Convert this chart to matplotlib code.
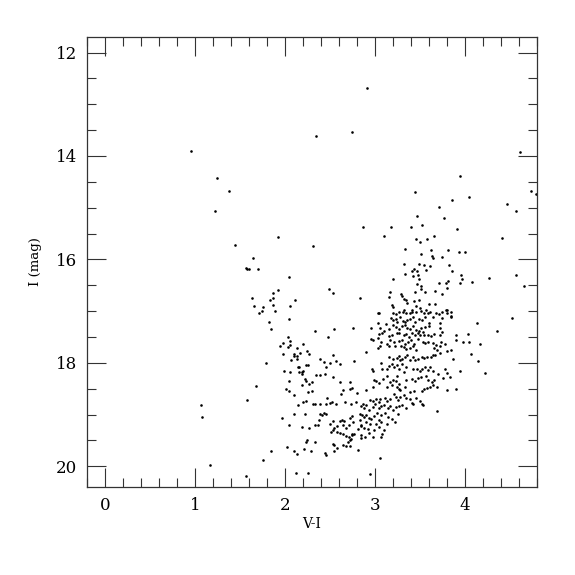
import matplotlib
matplotlib.use("Agg")
import matplotlib.pyplot as plt
from matplotlib.ticker import MultipleLocator

# colour-magnitude diagram, values (V-I, I)
# bright / sparse stars
vi_top = [2.91, 0.96, 2.34, 2.74, 4.61, 1.24, 1.38, 1.22, 3.95, 3.44, 4.05, 3.86, 3.71, 3.47,
          3.77, 3.52, 3.40, 3.18, 2.87, 3.91, 3.10, 3.46, 3.58, 3.66, 1.92, 4.41, 4.47, 4.57,
          4.73, 4.79]
i_top = [12.69, 13.90, 13.61, 13.53, 13.92, 14.43, 14.68, 15.07, 14.38, 14.69, 14.80, 14.85, 14.99, 15.16,
         15.19, 15.33, 15.37, 15.37, 15.37, 15.41, 15.55, 15.60, 15.61, 15.55, 15.57, 15.59, 14.92, 15.07,
         14.67, 14.73]

# upper red giant branch
vi_rgb = [3.50, 3.33, 3.62, 3.81, 3.93, 4.00, 3.51, 3.63, 3.64, 3.75, 3.32, 3.49, 3.54, 3.61,
          3.82, 3.43, 3.47, 3.41, 3.57, 3.33, 3.48, 3.42, 3.86, 3.96, 3.97, 3.20, 3.49, 4.27,
          4.57, 3.81, 3.71, 3.79, 3.94, 4.08, 3.47, 3.51, 3.80, 4.66, 3.51, 3.44, 3.56, 3.67,
          3.17, 3.29, 3.74, 3.16, 3.30, 3.32, 3.34, 2.83, 3.43, 3.36, 3.49, 3.60, 3.67, 3.19,
          3.20, 3.46, 3.50, 3.32, 3.41, 3.57, 3.79, 2.31, 2.49, 2.53]
i_rgb = [15.67, 15.80, 15.81, 15.82, 15.86, 15.86, 15.90, 15.93, 15.97, 15.96, 16.08, 16.09, 16.11, 16.12,
         16.11, 16.19, 16.22, 16.23, 16.20, 16.28, 16.31, 16.32, 16.22, 16.30, 16.37, 16.37, 16.37, 16.35,
         16.30, 16.41, 16.45, 16.45, 16.45, 16.44, 16.47, 16.52, 16.55, 16.51, 16.57, 16.63, 16.62, 16.61,
         16.63, 16.66, 16.66, 16.72, 16.70, 16.76, 16.79, 16.75, 16.81, 16.84, 16.79, 16.87, 16.86, 16.88,
         16.92, 16.90, 16.94, 16.97, 16.97, 16.97, 16.97, 15.74, 16.58, 16.65]

# red clump region
vi_clump = [3.03, 3.05, 3.20, 3.23, 3.27, 3.31, 3.35, 3.39, 3.41, 3.46, 3.51, 3.55, 3.59, 3.61,
            3.68, 3.71, 3.75, 3.80, 3.80, 3.85, 3.84, 3.03, 3.12, 3.18, 3.20, 3.23, 3.24, 3.28,
            3.31, 3.33, 3.36, 3.39, 3.42, 3.45, 3.49, 3.52, 3.56, 3.60, 3.64, 3.72, 3.75, 3.84,
            2.96, 3.06, 3.10, 3.16, 3.20, 3.23, 3.27, 3.30, 3.33, 3.36, 3.39, 3.42, 3.46, 3.49,
            3.51, 3.53, 3.56, 3.60, 3.72, 3.74, 3.27, 3.05, 3.08, 3.16, 3.19, 3.24, 3.32, 3.35,
            3.38, 3.41, 3.44, 3.48, 3.50, 3.55, 3.59, 3.62, 3.66, 3.72, 3.90, 4.03, 2.96, 2.98,
            3.03, 3.07, 3.13, 3.17, 3.21, 3.27, 3.30, 3.33, 3.37, 3.40, 3.43, 3.48, 3.53, 3.56,
            3.59, 3.64, 3.68, 3.73, 3.78, 3.90, 3.98, 4.04, 4.52, 4.13, 4.36, 4.17, 4.07, 4.15,
            4.22]
i_clump = [17.03, 17.04, 17.03, 17.06, 17.02, 17.01, 17.04, 17.03, 17.01, 17.02, 16.99, 17.04, 17.03, 17.01,
           17.04, 17.06, 17.01, 16.98, 17.04, 17.01, 17.09, 17.23, 17.24, 17.13, 17.17, 17.15, 17.21, 17.11,
           17.19, 17.21, 17.17, 17.15, 17.12, 17.21, 17.16, 17.17, 17.11, 17.23, 17.12, 17.23, 17.13, 17.11,
           17.32, 17.32, 17.38, 17.34, 17.27, 17.30, 17.35, 17.28, 17.27, 17.32, 17.34, 17.29, 17.37, 17.38,
           17.32, 17.40, 17.30, 17.29, 17.32, 17.41, 17.42, 17.44, 17.43, 17.48, 17.47, 17.43, 17.46, 17.44,
           17.50, 17.42, 17.47, 17.43, 17.46, 17.47, 17.46, 17.48, 17.44, 17.47, 17.47, 17.44, 17.53, 17.56,
           17.52, 17.59, 17.64, 17.55, 17.59, 17.57, 17.56, 17.63, 17.59, 17.56, 17.64, 17.53, 17.60, 17.61,
           17.59, 17.61, 17.65, 17.59, 17.63, 17.56, 17.59, 17.59, 17.13, 17.22, 17.38, 17.63, 17.83, 17.96,
           18.20]

# lower giant branch
vi_low = [2.90, 3.03, 3.06, 3.16, 3.22, 3.29, 3.32, 3.35, 3.39, 3.42, 3.46, 3.66, 3.69, 3.72,
          3.80, 3.84, 3.72, 3.16, 3.20, 3.24, 3.27, 3.28, 3.30, 3.33, 3.36, 3.39, 3.42, 3.45,
          3.48, 3.52, 3.54, 3.58, 3.62, 3.64, 3.67, 3.87, 3.07, 2.97, 2.98, 3.08, 3.13, 3.16,
          3.19, 3.21, 3.24, 3.27, 3.30, 3.32, 3.35, 3.42, 3.47, 3.50, 3.52, 3.56, 3.59, 3.61,
          3.65, 3.78, 3.80, 3.94, 3.70, 2.99, 3.01, 3.04, 3.09, 3.13, 3.17, 3.20, 3.23, 3.25,
          3.27, 3.35, 3.41, 3.44, 3.48, 3.51, 3.57, 3.59, 3.63, 3.66, 3.76, 3.83, 2.98, 2.90,
          3.13, 3.19, 3.24, 3.27, 3.28, 3.33, 3.39, 3.43, 3.52, 3.55, 3.58, 3.61, 3.65, 3.69,
          3.80, 3.90]
i_low = [17.79, 17.71, 17.68, 17.68, 17.67, 17.67, 17.69, 17.73, 17.71, 17.67, 17.75, 17.71, 17.75, 17.68,
         17.77, 17.75, 17.80, 17.88, 17.93, 17.90, 17.86, 17.95, 17.92, 17.89, 17.84, 17.95, 17.88, 17.95,
         17.92, 17.88, 17.90, 17.89, 17.88, 17.85, 17.84, 17.93, 18.01, 18.12, 18.16, 18.12, 18.11, 18.06,
         18.03, 18.08, 18.04, 18.12, 18.02, 18.17, 18.08, 18.11, 18.12, 18.15, 18.11, 18.08, 18.13, 18.08,
         18.16, 18.11, 18.19, 18.15, 18.21, 18.33, 18.35, 18.39, 18.31, 18.26, 18.37, 18.33, 18.35, 18.25,
         18.40, 18.33, 18.31, 18.35, 18.30, 18.28, 18.25, 18.33, 18.37, 18.34, 18.30, 18.28, 18.47, 18.53,
         18.47, 18.43, 18.46, 18.50, 18.53, 18.47, 18.56, 18.55, 18.55, 18.50, 18.48, 18.47, 18.42, 18.46,
         18.53, 18.50]

# base of the giant branch
vi_base = [2.94, 2.98, 3.01, 3.04, 3.06, 3.11, 3.13, 3.17, 3.21, 3.23, 3.26, 3.28, 3.32, 3.35,
           3.39, 3.41, 3.46, 3.50, 3.52, 3.53, 3.69, 2.87, 2.84, 2.88, 2.90, 2.93, 2.98, 3.00,
           3.04, 3.07, 3.10, 3.14, 3.17, 3.20, 3.23, 3.27, 3.30, 3.35, 3.42, 2.83, 2.86, 2.88,
           2.90, 2.93, 2.96, 2.99, 3.04, 3.07, 3.11, 3.14, 3.19, 3.22, 3.26, 3.01, 3.07, 2.83,
           2.90, 2.94, 3.13, 3.02]
i_base = [18.71, 18.73, 18.70, 18.75, 18.70, 18.68, 18.74, 18.70, 18.61, 18.66, 18.71, 18.65, 18.62, 18.68,
          18.70, 18.77, 18.68, 18.74, 18.79, 18.82, 18.93, 18.79, 18.84, 18.88, 18.82, 18.92, 18.86, 18.79,
          18.87, 18.84, 18.82, 18.88, 18.83, 18.91, 18.86, 18.83, 18.81, 18.88, 18.79, 18.98, 19.01, 19.04,
          19.00, 19.06, 19.09, 19.02, 19.10, 19.01, 18.97, 19.04, 19.08, 19.15, 18.99, 19.18, 19.15, 19.11,
          19.14, 19.18, 19.19, 18.97]

# blue / intermediate branch
vi_blue = [2.33, 2.48, 2.54, 2.76, 2.17, 2.20, 2.25, 2.27, 2.16, 2.19, 2.20, 2.23, 2.26, 2.19,
           2.22, 2.39, 2.45, 2.39, 2.43, 2.50, 2.46, 2.53, 2.57, 2.61, 2.77, 2.34, 2.53, 1.45,
           1.65, 1.57, 1.58, 1.60, 1.70, 2.05, 1.92, 1.87, 1.63, 1.83, 1.87, 2.11, 1.66, 1.76,
           1.87, 2.06, 1.74, 1.71, 1.89, 2.04, 1.82, 1.85, 2.03, 2.06, 1.98, 1.94, 2.03, 2.06,
           2.13, 1.98, 2.10, 2.13, 2.10, 2.13, 2.07, 1.79, 2.14, 1.99, 2.06, 2.16, 1.07, 1.08,
           1.17]
i_blue = [17.39, 17.50, 17.35, 17.32, 17.81, 17.64, 17.77, 17.83, 18.08, 18.17, 18.15, 18.05, 18.04, 18.21,
          18.31, 18.24, 18.22, 17.92, 17.99, 18.01, 18.08, 17.85, 17.96, 18.02, 17.96, 18.24, 18.28, 15.72,
          15.98, 16.16, 16.19, 16.19, 16.19, 16.33, 16.59, 16.64, 16.75, 16.79, 16.75, 16.79, 16.90, 16.92,
          16.88, 16.90, 16.99, 17.03, 16.99, 17.15, 17.21, 17.34, 17.50, 17.57, 17.62, 17.67, 17.69, 17.66,
          17.71, 17.83, 17.83, 17.86, 17.87, 17.93, 17.95, 18.01, 18.08, 18.15, 18.17, 18.18, 18.81, 19.04,
          19.98]

# faint turn-off region
vi_faint = [1.68, 2.05, 2.19, 2.23, 2.27, 2.30, 2.61, 2.72, 2.74, 2.62, 2.80, 2.01, 2.05, 2.26,
            2.30, 2.10, 1.58, 2.20, 2.23, 2.15, 2.31, 2.33, 2.39, 2.46, 2.50, 2.52, 2.47, 2.57,
            2.67, 2.73, 2.79, 2.10, 1.97, 2.04, 2.02, 2.10, 1.85, 1.76, 1.57, 2.12, 2.13, 2.65,
            2.72, 2.22, 2.39, 2.41, 2.43, 2.46, 2.38, 2.33, 2.37, 2.27, 2.19, 2.50, 2.53, 2.55,
            2.58, 2.61, 2.63, 2.64, 2.66, 2.68, 2.71, 2.72, 2.74, 2.76, 2.53, 2.51, 2.58, 2.61,
            2.64, 2.68, 2.71, 2.73, 2.72, 2.70, 2.74, 2.75, 2.77, 2.81, 2.84, 2.85, 2.88, 2.92,
            2.93, 2.85, 2.84, 2.89, 2.98, 3.07, 3.08, 3.10, 2.99, 3.04, 2.23, 2.25, 2.33, 2.21,
            2.29, 2.44, 2.46, 2.53, 2.55, 2.58, 2.54, 2.65, 2.68, 2.72, 2.81, 3.06, 2.26, 2.94]
i_faint = [18.44, 18.35, 18.43, 18.35, 18.41, 18.37, 18.37, 18.37, 18.48, 18.61, 18.58, 18.51, 18.55, 18.57,
           18.54, 18.63, 18.72, 18.76, 18.73, 18.81, 18.79, 18.80, 18.79, 18.80, 18.77, 18.75, 18.68, 18.79,
           18.76, 18.80, 18.76, 18.99, 19.06, 19.21, 19.62, 19.70, 19.71, 19.88, 20.19, 20.13, 19.77, 18.53,
           18.51, 18.99, 18.98, 19.01, 18.97, 18.99, 19.11, 19.21, 19.21, 19.25, 19.24, 19.19, 19.12, 19.25,
           19.22, 19.13, 19.11, 19.21, 19.13, 19.25, 19.20, 19.06, 19.03, 19.15, 19.30, 19.33, 19.33, 19.35,
           19.38, 19.41, 19.43, 19.47, 19.50, 19.52, 19.38, 19.39, 19.37, 19.28, 19.20, 19.22, 19.25, 19.28,
           19.35, 19.39, 19.46, 19.43, 19.44, 19.43, 19.38, 19.30, 19.30, 19.24, 19.53, 19.50, 19.53, 19.66,
           19.70, 19.74, 19.78, 19.56, 19.59, 19.65, 19.70, 19.59, 19.60, 19.61, 19.68, 19.84, 20.12, 20.15]

vi = vi_top + vi_rgb + vi_clump + vi_low + vi_base + vi_blue + vi_faint
imag = i_top + i_rgb + i_clump + i_low + i_base + i_blue + i_faint

plt.rcParams['font.family'] = ['DejaVu Serif']

fig = plt.figure(figsize=(5.75, 5.75), dpi=100)
ax = fig.add_axes([0.1513, 0.153, 0.7826, 0.7826])

ax.scatter(vi, imag, s=3.5, marker='o', c='black', linewidths=0)

ax.set_xlim(-0.2, 4.8)
ax.set_ylim(20.4, 11.7)
ax.xaxis.set_major_locator(MultipleLocator(1))
ax.xaxis.set_minor_locator(MultipleLocator(0.2))
ax.yaxis.set_major_locator(MultipleLocator(2))
ax.yaxis.set_minor_locator(MultipleLocator(0.5))
ax.tick_params(which='both', direction='in', top=True, right=True, width=0.8, color='#333333')
ax.tick_params(which='major', length=13.5, labelsize=12, pad=7)
ax.tick_params(which='minor', length=6.8)
for s in ax.spines.values():
    s.set_linewidth(0.9)
    s.set_color('#333333')

ax.set_xlabel('V-I', fontsize=10, labelpad=2)
ax.set_ylabel('I (mag)', fontsize=9.5, labelpad=10)

fig.savefig('out.png', dpi=100)
